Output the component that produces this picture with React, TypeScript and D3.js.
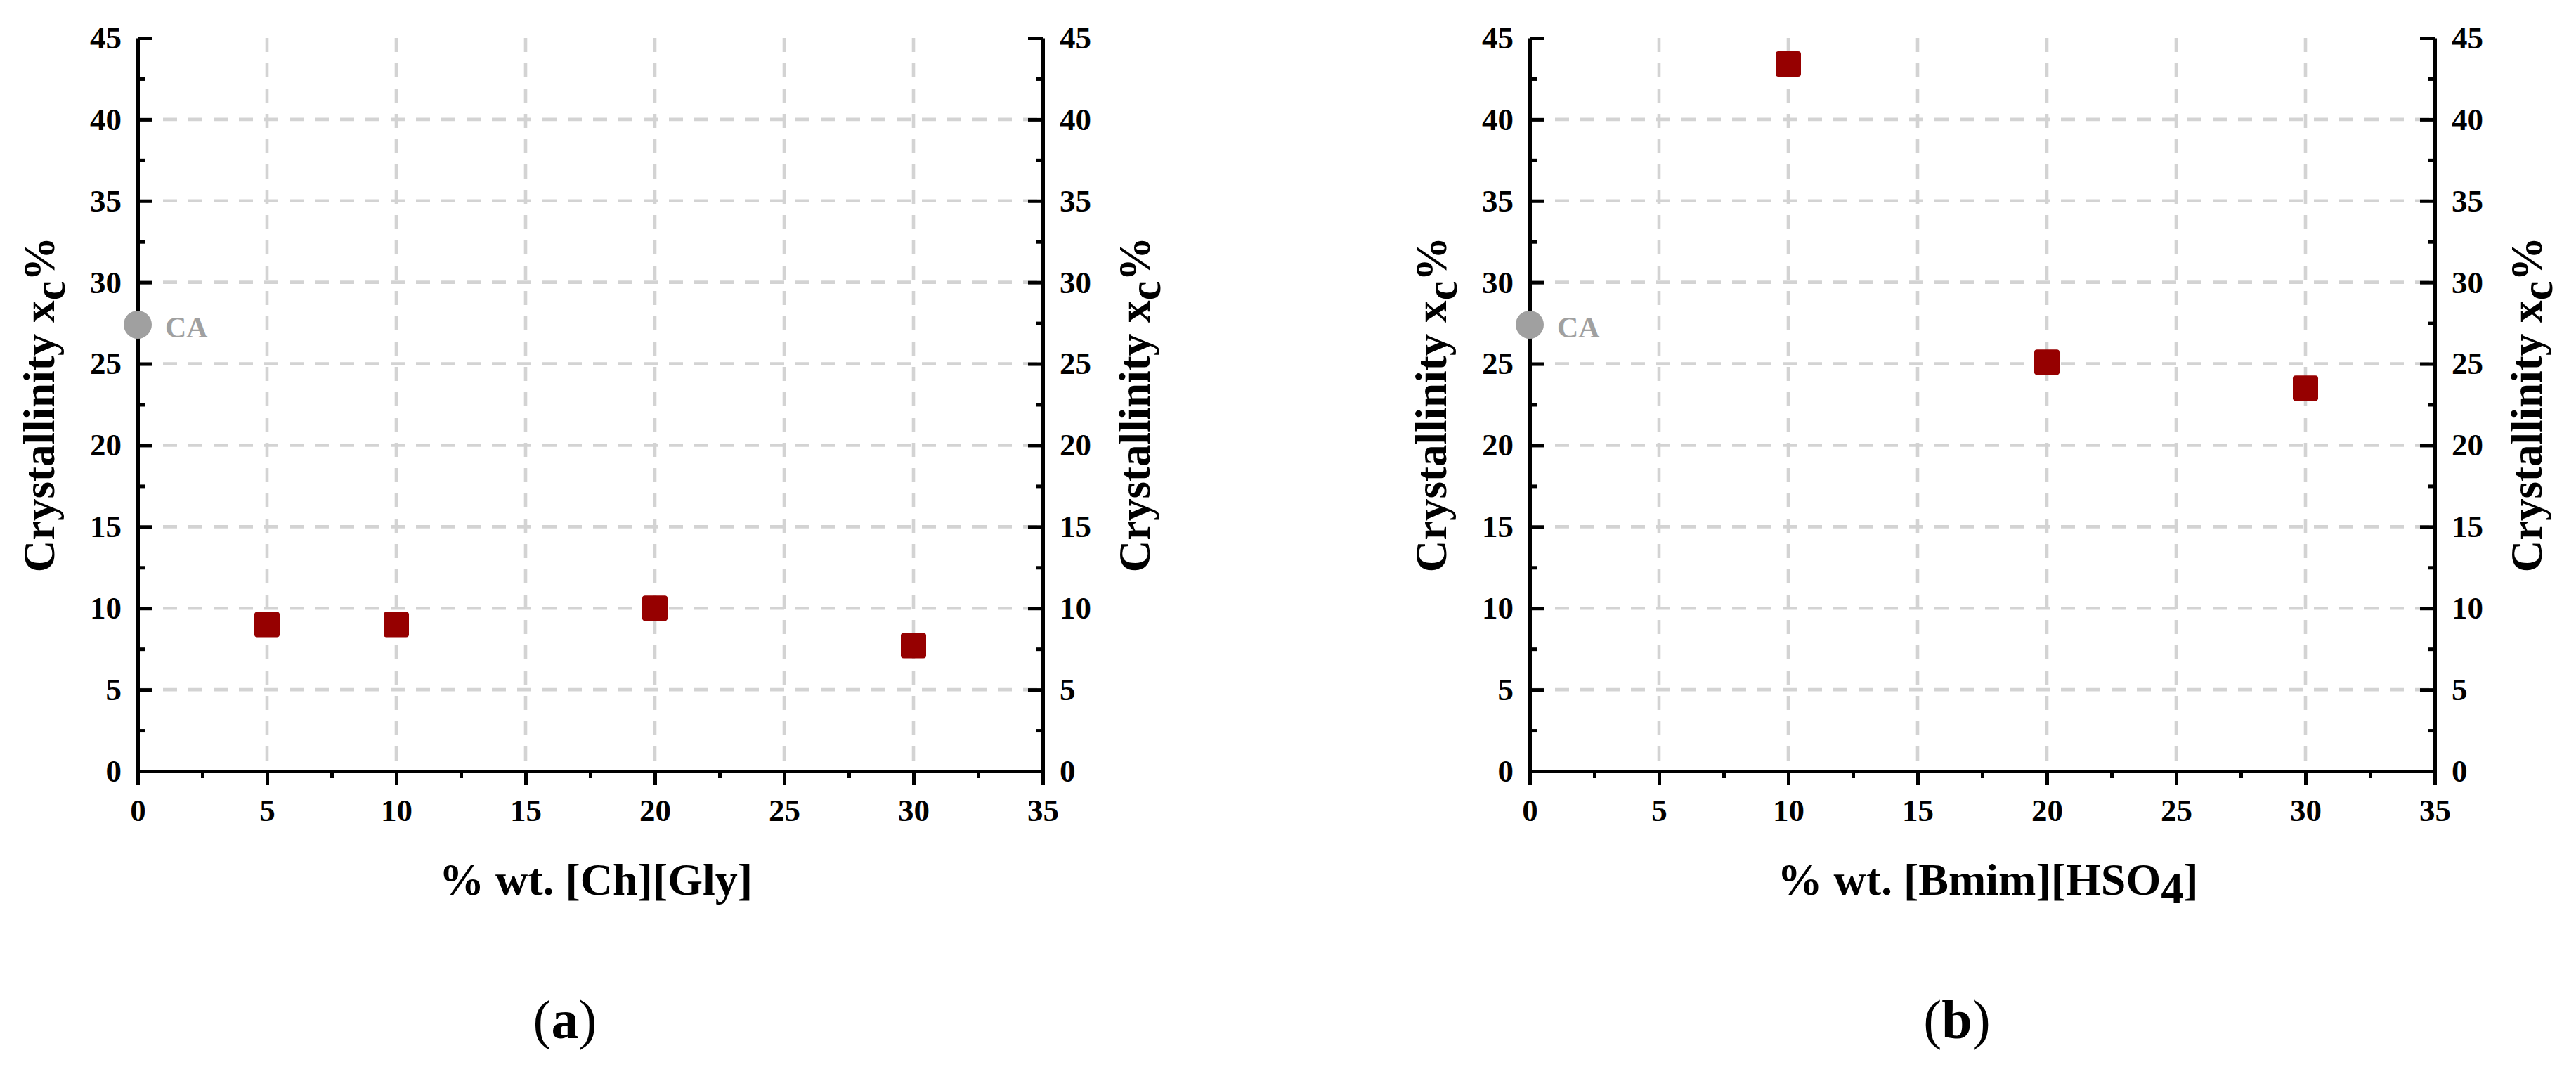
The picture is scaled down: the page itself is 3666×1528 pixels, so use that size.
import React, { useEffect, useRef } from 'react'
import * as d3 from 'd3'

// tick values
const xTickValues = [0, 5, 10, 15, 20, 25, 30, 35]
const xMinorValues = [2.5, 7.5, 12.5, 17.5, 22.5, 27.5, 32.5]
const yTickValues = [0, 5, 10, 15, 20, 25, 30, 35, 40, 45]
const yMinorValues = [2.5, 7.5, 12.5, 17.5, 22.5, 27.5, 32.5, 37.5, 42.5]

// (a) [Ch][Gly]
const chGlyLoading = [5, 10, 20, 30]
const chGlyCrystallinity = [9.0, 9.0, 10.0, 7.7]

// (b) [Bmim][HSO4]
const bmimLoading = [10, 20, 30]
const bmimCrystallinity = [43.4, 25.1, 23.5]

// neat cellulose acetate reference point
const caLoading = [0]
const caCrystallinity = [27.4]

const FONT = '"Liberation Serif", "Times New Roman", Times, serif'
const W = 3666
const H = 1528
const plotW = 1288
const top = 54
const bottom = 1097

interface PanelOpts {
    left: number
    xs: number[]
    ys: number[]
    xTitle: string
    xSub?: string
    xTail?: string
    letter: string
}

function drawPanel(svg: d3.Selection<SVGSVGElement, unknown, null, undefined>, o: PanelOpts) {
    const g = svg.append('g').attr('transform', `translate(${o.left},0)`)

    const x = d3.scaleLinear().domain([0, 35]).range([0, plotW])
    const y = d3.scaleLinear().domain([0, 45]).range([bottom, top])

    // grid
    g.append('g')
        .selectAll('line')
        .data(xTickValues.filter(d => d > 0 && d < 35))
        .join('line')
        .attr('x1', d => x(d)).attr('x2', d => x(d))
        .attr('y1', y(45)).attr('y2', y(0))
        .attr('stroke', '#d3d3d3').attr('stroke-width', 4.6)
        .attr('stroke-dasharray', '20 16')
    g.append('g')
        .selectAll('line')
        .data(yTickValues.filter(d => d > 0 && d < 45))
        .join('line')
        .attr('x1', x(0)).attr('x2', x(35))
        .attr('y1', d => y(d)).attr('y2', d => y(d))
        .attr('stroke', '#d3d3d3').attr('stroke-width', 4.6)
        .attr('stroke-dasharray', '20 16')

    const styleAxis = (sel: d3.Selection<SVGGElement, unknown, null, undefined>) => {
        sel.attr('font-family', FONT).attr('font-size', 45).attr('font-weight', 'bold')
        sel.selectAll('.tick line').attr('stroke', '#000').attr('stroke-width', 5)
        sel.selectAll('.tick text').attr('fill', '#000')
        sel.select('.domain').attr('stroke', '#000').attr('stroke-width', 5)
    }

    // minor ticks
    g.append('g')
        .call(d3.axisLeft(y).tickValues(yMinorValues).tickSize(-10).tickFormat(() => ''))
        .call(s => s.select('.domain').remove())
        .call(s => s.selectAll('.tick line').attr('stroke', '#000').attr('stroke-width', 5))
    g.append('g')
        .attr('transform', `translate(${plotW},0)`)
        .call(d3.axisRight(y).tickValues(yMinorValues).tickSize(-10).tickFormat(() => ''))
        .call(s => s.select('.domain').remove())
        .call(s => s.selectAll('.tick line').attr('stroke', '#000').attr('stroke-width', 5))
    g.append('g')
        .attr('transform', `translate(0,${bottom})`)
        .call(d3.axisBottom(x).tickValues(xMinorValues).tickSize(10).tickFormat(() => ''))
        .call(s => s.select('.domain').remove())
        .call(s => s.selectAll('.tick line').attr('stroke', '#000').attr('stroke-width', 5))

    // major axes
    g.append('g')
        .call(d3.axisLeft(y).tickValues(yTickValues).tickSize(-21).tickSizeOuter(0).tickPadding(23).tickFormat(d3.format('d')))
        .call(styleAxis)
    g.append('g')
        .attr('transform', `translate(${plotW},0)`)
        .call(d3.axisRight(y).tickValues(yTickValues).tickSize(-21).tickSizeOuter(0).tickPadding(24).tickFormat(d3.format('d')))
        .call(styleAxis)
    g.append('g')
        .attr('transform', `translate(0,${bottom})`)
        .call(d3.axisBottom(x).tickValues(xTickValues).tickSize(20).tickSizeOuter(0).tickPadding(19).tickFormat(d3.format('d')))
        .call(styleAxis)

    // CA reference
    g.selectAll('.ca')
        .data(caLoading.map((v, i) => [v, caCrystallinity[i]]))
        .join('circle')
        .attr('class', 'ca')
        .attr('cx', d => x(d[0])).attr('cy', d => y(d[1]))
        .attr('r', 20)
        .attr('fill', '#a0a0a0')
    g.selectAll('.ca-label')
        .data(caLoading.map((v, i) => [v, caCrystallinity[i]]))
        .join('text')
        .attr('class', 'ca-label')
        .attr('x', d => x(d[0]) + 39)
        .attr('y', d => y(d[1]) + 18)
        .attr('fill', '#a0a0a0')
        .attr('font-family', FONT).attr('font-size', 42).attr('font-weight', 'bold')
        .text('CA')

    // data markers
    g.selectAll('.pt')
        .data(o.xs.map((v, i) => [v, o.ys[i]]))
        .join('rect')
        .attr('class', 'pt')
        .attr('x', d => x(d[0]) - 18).attr('y', d => y(d[1]) - 18)
        .attr('width', 36).attr('height', 36)
        .attr('rx', 4)
        .attr('fill', '#960000')

    // y titles
    const yTitle = (tx: number) => {
        const t = g.append('text')
            .attr('transform', `translate(${tx},${(top + bottom) / 2}) rotate(-90)`)
            .attr('text-anchor', 'middle')
            .attr('font-family', FONT).attr('font-size', 63).attr('font-weight', 'bold')
            .attr('fill', '#000')
        t.append('tspan').text('Crystallinity x')
        t.append('tspan').attr('dy', 15).text('c')
        t.append('tspan').attr('dy', -15).text('%')
    }
    yTitle(-119)
    yTitle(plotW + 152)

    // x title
    const xt = g.append('text')
        .attr('x', plotW / 2 + 8).attr('y', 1273)
        .attr('text-anchor', 'middle')
        .attr('font-family', FONT).attr('font-size', 64).attr('font-weight', 'bold')
        .attr('fill', '#000')
    xt.append('tspan').text(o.xTitle)
    if (o.xSub) {
        xt.append('tspan').attr('dy', 12).text(o.xSub)
        xt.append('tspan').attr('dy', -12).text(o.xTail ?? '')
    }

    // panel letter
    const lt = g.append('text')
        .attr('x', 608).attr('y', 1477)
        .attr('text-anchor', 'middle')
        .attr('font-family', FONT).attr('font-size', 78)
        .attr('fill', '#000')
    lt.append('tspan').text('(')
    lt.append('tspan').attr('font-weight', 'bold').text(o.letter)
    lt.append('tspan').text(')')
}

const App: React.FC = () => {
    const ref = useRef<SVGSVGElement | null>(null)

    useEffect(() => {
        if (!ref.current) return
        const svg = d3.select(ref.current)
        svg.selectAll('*').remove()
        svg.append('rect').attr('width', W).attr('height', H).attr('fill', '#fff')

        drawPanel(svg, {
            left: 196,
            xs: chGlyLoading,
            ys: chGlyCrystallinity,
            xTitle: '% wt. [Ch][Gly]',
            letter: 'a'
        })
        drawPanel(svg, {
            left: 2177,
            xs: bmimLoading,
            ys: bmimCrystallinity,
            xTitle: '% wt. [Bmim][HSO',
            xSub: '4',
            xTail: ']',
            letter: 'b'
        })
    }, [])

    return (
        <svg
            ref={ref}
            width={W}
            height={H}
            viewBox={`0 0 ${W} ${H}`}
            style={{ position: 'absolute', left: 0, top: 0, display: 'block' }}
        />
    )
}

export default App
